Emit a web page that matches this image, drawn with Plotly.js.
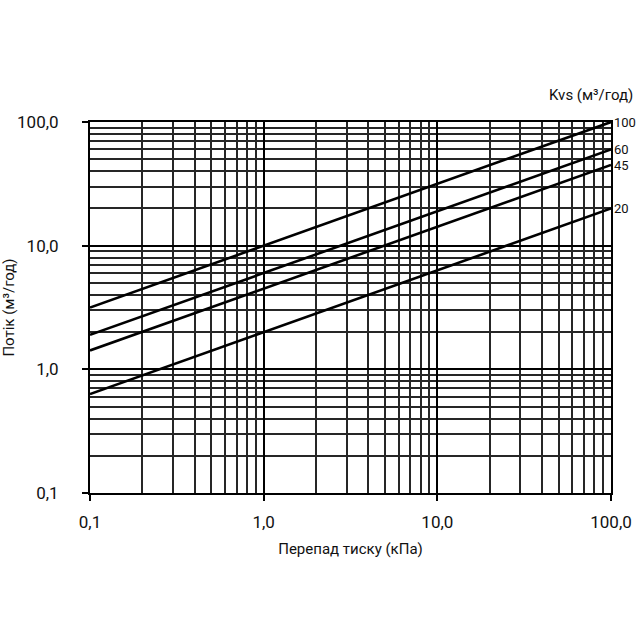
<!DOCTYPE html>
<html><head><meta charset="utf-8">
<script src="https://cdn.plot.ly/plotly-3.0.1.min.js"></script>
<style>body{margin:0;background:#fff}#c{width:640px;height:640px}</style>
</head><body><div id="c"></div>
<script>
const dp = [0.1, 100];
const kvsLabels = ['100', '60', '45', '20'];
const flow100 = [3.16, 100];
const flow60 = [1.9, 60];
const flow45 = [1.42, 45];
const flow20 = [0.63, 20];
const majorTicks = [0.1, 1, 10, 100];
const xTickText = ['0,1', '1,0', '10,0', '100,0'];
const yTickText = ['0,1', '1,0', '10,0', '100,0'];

const minorTicks = [];
[0.1, 1, 10].forEach(d => { for (let k = 2; k <= 9; k++) minorTicks.push(+(d * k).toPrecision(3)); });

const series = [flow100, flow60, flow45, flow20];
const traces = series.map((s, i) => ({
  x: dp, y: s, mode: 'lines', type: 'scatter',
  line: {color: '#000', width: 2.6}, name: kvsLabels[i], hoverinfo: 'none'
}));

const font = {family: 'Roboto, sans-serif', color: '#111'};
const annotations = series.map((s, i) => ({
  x: Math.log10(dp[dp.length - 1]), y: Math.log10(s[s.length - 1]),
  xref: 'x', yref: 'y', text: kvsLabels[i], showarrow: false,
  xanchor: 'left', xshift: 1, yshift: (i === 2 ? -1 : 0),
  font: Object.assign({size: 13}, font)
}));
annotations.push({
  xref: 'paper', yref: 'paper', x: 1.047, y: 1.0, yshift: 16,
  xanchor: 'right', yanchor: 'bottom', showarrow: false,
  text: 'Kvs (м³/год)', font: Object.assign({size: 15}, font)
});

const axisCommon = {
  type: 'log', range: [-1, 2], tickvals: majorTicks,
  showgrid: true, gridcolor: '#000', gridwidth: 2,
  ticks: 'outside', ticklen: 6, tickwidth: 2, tickcolor: '#000',
  showline: true, linecolor: '#000', linewidth: 2, mirror: true,
  zeroline: false, fixedrange: true,
  minor: {tickvals: minorTicks, showgrid: true, gridcolor: '#262626', gridwidth: 2, ticks: ''},
  tickfont: Object.assign({size: 17}, font)
};

const layout = {
  width: 640, height: 640,
  margin: {l: 90, r: 29, t: 122, b: 147},
  paper_bgcolor: '#fff', plot_bgcolor: '#fff',
  showlegend: false,
  xaxis: Object.assign({}, axisCommon, {
    ticktext: xTickText, ticklabelstandoff: 7,
    title: {text: 'Перепад тиску (кПа)', font: Object.assign({size: 15}, font), standoff: 12}
  }),
  yaxis: Object.assign({}, axisCommon, {
    ticktext: yTickText, ticklabelstandoff: 20,
    title: {text: 'Потік (м³/год)', font: Object.assign({size: 15}, font), standoff: 8}
  }),
  annotations: annotations
};

Plotly.newPlot('c', traces, layout, {staticPlot: true});
</script></body></html>
